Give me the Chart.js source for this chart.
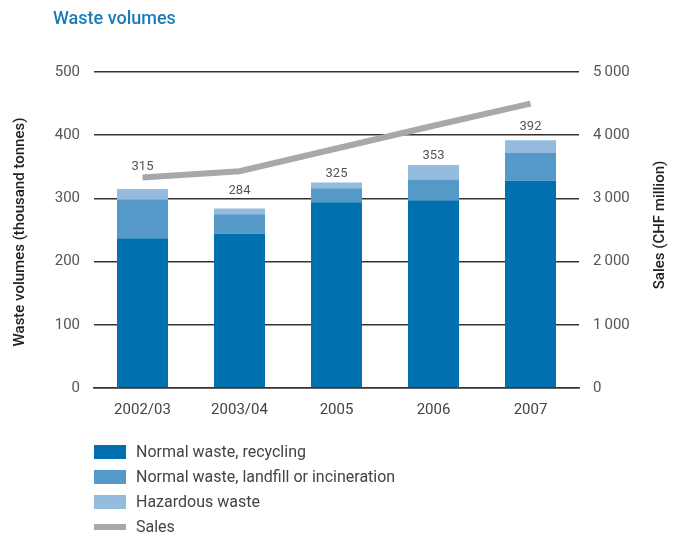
<!DOCTYPE html>
<html>
<head>
<meta charset="utf-8">
<script src="https://cdn.jsdelivr.net/npm/chart.js@4/dist/chart.umd.min.js"></script>
<style>
    body { margin: 0; background: #fff; font-family: Roboto, sans-serif; }
    #wrap { position: relative; width: 680px; height: 535px; }
    #barChartCanvas { position: absolute; left: 0; top: 0; }
    #title { position: absolute; left: 53px; top: 7px; font-size: 18px; font-weight: 500; color: #1a7bb8; z-index: 1; }
    #legend-div { position: absolute; left: 94px; top: 443px; }
    #legend-div ul { list-style: none; margin: 0; padding: 0; }
    #legend-div li { height: 25px; line-height: 18px; font-size: 16px; color: #444; position: relative; padding-left: 42px; }
    #legend-div li span { position: absolute; left: 0; width: 32px; }
</style>
</head>
<body>
<div id="wrap">
    <div id="title">Waste volumes</div>
    <canvas id="barChartCanvas" width="680" height="444"></canvas>
    <div id="legend-div"></div>
</div>
<script>
let years = ['2002/03', '2003/04', '2005', '2006', '2007'];
let recycling = [237, 244, 294, 297, 328];
let landfill = [61, 31, 22, 33, 44];
let hazardous = [17, 9, 9, 23, 20];
let totals = [315, 284, 325, 353, 392];
let sales = [3330, 3430, 3790, 4150, 4500];

let colors = {
    recycling: '#0071ae',
    landfill: '#5599c9',
    hazardous: '#95bbde',
    sales: '#a7a8ab'
};

// total labels above the stacks, some lifted off the sales line
let labelGap = [22, 18, 9, 9, 14];

let extrasPlugin = {
    id: 'extras',
    afterDatasetsDraw: function (chart) {
        let ctx = chart.ctx;
        let x = chart.scales.x;
        let y = chart.scales.y;
        ctx.save();
        ctx.font = '13px Roboto';
        ctx.fillStyle = '#555';
        ctx.textAlign = 'center';
        ctx.textBaseline = 'middle';
        totals.forEach(function (t, i) {
            ctx.fillText(t, x.getPixelForValue(i), y.getPixelForValue(t) - labelGap[i]);
        });

        let midY = (chart.chartArea.top + chart.chartArea.bottom) / 2;
        ctx.font = '500 15px Roboto';
        ctx.fillStyle = '#222';
        ctx.translate(20, midY + 2);
        ctx.rotate(-Math.PI / 2);
        ctx.fillText('Waste volumes (thousand tonnes)', 0, 0);
        ctx.restore();

        ctx.save();
        ctx.font = '500 15px Roboto';
        ctx.fillStyle = '#222';
        ctx.textAlign = 'center';
        ctx.textBaseline = 'middle';
        ctx.translate(660, midY - 5);
        ctx.rotate(-Math.PI / 2);
        ctx.fillText('Sales (CHF million)', 0, 0);
        ctx.restore();
    }
};

let barChartDraw = function () {
    let ctx = document.getElementById('barChartCanvas').getContext('2d');

    window.barChart = new Chart(ctx, {
        type: 'bar',
        data: {
            labels: years,
            datasets: [
                { type: 'line', label: 'Sales', data: sales, yAxisID: 'y1', borderColor: colors.sales, backgroundColor: colors.sales, borderWidth: 6, pointRadius: 0, tension: 0, order: 0 },
                { label: 'Normal waste, recycling', data: recycling, backgroundColor: colors.recycling, order: 1 },
                { label: 'Normal waste, landfill or incineration', data: landfill, backgroundColor: colors.landfill, order: 1 },
                { label: 'Hazardous waste', data: hazardous, backgroundColor: colors.hazardous, order: 1 }
            ]
        },
        options: {
            responsive: false,
            animation: false,
            barPercentage: 0.526,
            categoryPercentage: 1,
            layout: { padding: { top: 72, bottom: 12 } },
            plugins: {
                legend: { display: false },
                tooltip: { enabled: false }
            },
            scales: {
                x: {
                    stacked: true,
                    grid: { display: false, drawTicks: false },
                    border: { color: '#333', width: 1.5 },
                    ticks: { color: '#444', font: { family: 'Roboto', size: 15 }, padding: 13 }
                },
                y: {
                    stacked: true,
                    position: 'left',
                    min: 0, max: 500,
                    afterFit: function (scale) { scale.width = 94; },
                    grid: { color: '#333', lineWidth: 1.5, drawTicks: false },
                    border: { display: false },
                    ticks: { stepSize: 100, color: '#555', font: { family: 'Roboto', size: 15 }, padding: 14 }
                },
                y1: {
                    position: 'right',
                    min: 0, max: 5000,
                    afterFit: function (scale) { scale.width = 101; },
                    grid: { display: false, drawTicks: false },
                    border: { display: false },
                    ticks: {
                        stepSize: 1000, color: '#555', font: { family: 'Roboto', size: 15 }, padding: 14,
                        callback: function (v) { return v >= 1000 ? Math.floor(v / 1000) + '\u2009' + '000' : v; }
                    }
                }
            }
        },
        plugins: [extrasPlugin]
    });
};

let legendDraw = function () {
    let ul = document.createElement('ul');
    let items = [
        ['Normal waste, recycling', colors.recycling, 14],
        ['Normal waste, landfill or incineration', colors.landfill, 14],
        ['Hazardous waste', colors.hazardous, 14],
        ['Sales', colors.sales, 6]
    ];
    items.forEach(function (it) {
        let top = (18 - it[2]) / 2;
        ul.innerHTML += `<li><span style="background-color: ${it[1]}; height: ${it[2]}px; top: ${top}px"></span>${it[0]}</li>`;
    });
    document.getElementById('legend-div').appendChild(ul);
};

barChartDraw();
legendDraw();
</script>
</body>
</html>
